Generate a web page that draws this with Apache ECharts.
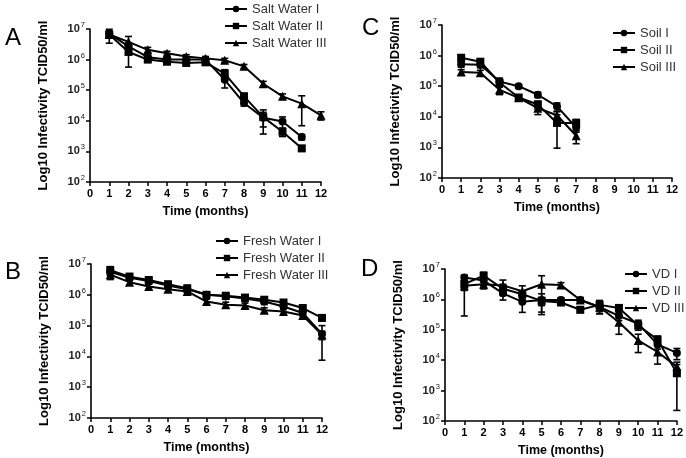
<!DOCTYPE html>
<html>
<head>
<meta charset="utf-8">
<script src="https://cdn.jsdelivr.net/npm/echarts@6/dist/echarts.min.js"></script>
<style>
html,body{margin:0;padding:0;background:#fff;}
#chart{width:686px;height:458px;}
</style>
</head>
<body>
<div id="chart"></div>
<script>
// ---- Data (log10 TCID50/ml) ----
const months = [1,2,3,4,5,6,7,8,9,10,11,12];
const soilMonths = [1,2,3,4,5,6,7];
const yTicks = [2,3,4,5,6,7];

// Panel A: Salt water
const saltI   = [6.85,6.43,6.08,6.00,6.00,6.00,5.34,4.58,4.10,3.98,3.47,null];
const saltII  = [6.82,6.25,6.00,5.93,5.89,5.91,5.54,4.80,4.12,3.64,3.10,null];
const saltIII = [6.82,6.58,6.32,6.21,6.10,6.04,5.98,5.78,5.21,4.80,4.56,4.18];
// error (SD as fraction of mean)
const saltIErr   = [0.2,0.3,0.15,0.15,0.15,0.15,0.46,0.2,0.5,0.4,0.2,null];
const saltIIErr  = [0.48,0.68,0.15,0.15,0.15,0.15,0.35,0.25,0.72,0.3,0.2,null];
const saltIIIErr = [0.2,0.5,0.2,0.15,0.15,0.15,0.15,0.15,0.2,0.2,0.81,0.3];

// Panel B: Fresh water
const freshI   = [6.75,6.55,6.45,6.30,6.18,6.00,5.95,5.88,5.78,5.62,5.41,4.73];
const freshII  = [6.80,6.59,6.48,6.34,6.21,6.00,5.97,5.91,5.84,5.75,5.57,5.25];
const freshIII = [6.65,6.41,6.27,6.18,6.11,5.78,5.68,5.65,5.50,5.46,5.33,4.70];
const freshIErr   = [0.25,0.2,0.2,0.2,0.2,0.2,0.2,0.2,0.2,0.2,0.2,0.86];
const freshIIErr  = [0.3,0.25,0.2,0.25,0.25,0.25,0.2,0.2,0.2,0.2,0.2,0.2];
const freshIIIErr = [0.3,0.2,0.2,0.2,0.2,0.2,0.2,0.2,0.2,0.2,0.2,0.3];

// Panel C: Soil
const soilI   = [5.72,5.70,5.15,5.00,4.72,4.34,3.65];
const soilII  = [5.93,5.80,5.12,4.63,4.40,3.80,3.80];
const soilIII = [5.46,5.44,4.88,4.62,4.28,4.05,3.38];
const soilIErr   = [0.2,0.2,0.3,0.15,0.2,0.3,0.3];
const soilIIErr  = [0.25,0.2,0.3,0.2,0.3,0.85,0.3];
const soilIIIErr = [0.2,0.2,0.3,0.2,0.38,0.3,0.45];

// Panel D: VD
const vdI   = [6.72,6.62,6.20,5.92,5.98,5.98,5.98,5.75,5.46,5.20,4.52,4.24];
const vdII  = [6.50,6.78,6.35,6.17,5.95,5.90,5.66,5.82,5.72,5.14,4.68,3.57];
const vdIII = [6.45,6.50,6.46,6.27,6.50,6.47,5.98,5.75,5.25,4.65,4.27,3.79];
const vdIErr   = [0.2,0.3,0.4,0.55,0.6,0.2,0.2,0.4,0.3,0.3,0.3,0.4];
const vdIIErr  = [0.91,0.3,0.4,0.3,0.3,0.2,0.2,0.4,0.2,0.3,0.3,0.94];
const vdIIIErr = [0.3,0.3,0.5,0.5,0.9,0.2,0.2,0.4,0.6,0.6,0.6,0.4];

// ---- Build chart ----
const FONT = 'Liberation Sans, Arial, sans-serif';
const grids = [
  {left:90, top:29, width:231, height:153},   // A
  {left:91, top:264, width:231, height:154},  // B
  {left:442, top:25, width:230, height:153},  // C
  {left:445, top:269, width:233, height:154}  // D
];

function xAxisCfg(i){
  return {
    gridIndex:i, type:'value', min:0, max:12, interval:1,
    axisLine:{lineStyle:{color:'#000', width:1.6}},
    axisTick:{length:4, lineStyle:{color:'#000', width:1.5}},
    axisLabel:{fontSize:11, fontWeight:'bold', color:'#000', margin:6, fontFamily:FONT},
    splitLine:{show:false},
    name:'Time (months)', nameLocation:'middle', nameGap:23,
    nameTextStyle:{fontSize:12.5, fontWeight:'bold', color:'#000', fontFamily:FONT}
  };
}
function yAxisCfg(i){
  return {
    gridIndex:i, type:'value', min:yTicks[0], max:yTicks[yTicks.length-1], interval:1,
    axisLine:{show:true, lineStyle:{color:'#000', width:1.6}},
    axisTick:{show:true, length:4, lineStyle:{color:'#000', width:1.5}},
    axisLabel:{
      margin:5, fontFamily:FONT,
      formatter: v => '{b|10}{s|' + v + '}',
      rich:{
        b:{fontSize:11, fontWeight:'bold', color:'#222', fontFamily:FONT},
        s:{fontSize:7.5, color:'#222', fontFamily:FONT, padding:[0,0,8,1]}
      }
    },
    splitLine:{show:false},
    name:'Log10 Infectivity TCID50/ml', nameLocation:'middle', nameGap:40,
    nameTextStyle:{fontSize:13, fontWeight:'bold', color:'#000', fontFamily:FONT}
  };
}

const series = [];
function addSeries(name, xs, ys, errs, symbol, g){
  const pts = [];
  const bars = [];
  xs.forEach((m, k) => {
    if (ys[k] == null) return;
    pts.push([m, ys[k]]);
    const r = errs[k];
    if (r) {
      const hi = ys[k] + Math.log10(1 + r);
      const lo = Math.max(yTicks[0], ys[k] + Math.log10(Math.max(1 - r, 1e-6)));
      bars.push([m, lo, hi]);
    }
  });
  series.push({
    type:'custom', xAxisIndex:g, yAxisIndex:g, silent:true, z:2,
    renderItem:(params, api) => {
      const x = api.value(0);
      const pLo = api.coord([x, api.value(1)]);
      const pHi = api.coord([x, api.value(2)]);
      const w = 3.5;
      const st = {stroke:'#000', lineWidth:1.6};
      return {type:'group', children:[
        {type:'line', shape:{x1:pLo[0], y1:pLo[1], x2:pHi[0], y2:pHi[1]}, style:st},
        {type:'line', shape:{x1:pLo[0]-w, y1:pLo[1], x2:pLo[0]+w, y2:pLo[1]}, style:st},
        {type:'line', shape:{x1:pHi[0]-w, y1:pHi[1], x2:pHi[0]+w, y2:pHi[1]}, style:st}
      ]};
    },
    data: bars
  });
  series.push({
    type:'line', name:name, xAxisIndex:g, yAxisIndex:g, z:3,
    data: pts, symbol: symbol,
    symbolSize: symbol === 'triangle' ? 9 : 8,
    lineStyle:{color:'#000', width:2},
    itemStyle:{color:'#000'},
    emphasis:{disabled:true}
  });
}

addSeries('Salt Water I',   months, saltI,   saltIErr,   'circle',   0);
addSeries('Salt Water II',  months, saltII,  saltIIErr,  'rect',     0);
addSeries('Salt Water III', months, saltIII, saltIIIErr, 'triangle', 0);
addSeries('Fresh Water I',   months, freshI,   freshIErr,   'circle',   1);
addSeries('Fresh Water II',  months, freshII,  freshIIErr,  'rect',     1);
addSeries('Fresh Water III', months, freshIII, freshIIIErr, 'triangle', 1);
addSeries('Soil I',   soilMonths, soilI,   soilIErr,   'circle',   2);
addSeries('Soil II',  soilMonths, soilII,  soilIIErr,  'rect',     2);
addSeries('Soil III', soilMonths, soilIII, soilIIIErr, 'triangle', 2);
addSeries('VD I',   months, vdI,   vdIErr,   'circle',   3);
addSeries('VD II',  months, vdII,  vdIIErr,  'rect',     3);
addSeries('VD III', months, vdIII, vdIIIErr, 'triangle', 3);

function legendCfg(names, left, top){
  return {
    data:names, left:left, top:top, orient:'vertical',
    itemWidth:22, itemHeight:8, itemGap:3, selectedMode:false,
    textStyle:{fontSize:13, color:'#333', fontFamily:FONT, lineHeight:14}
  };
}

const letter = (t, x, y) => ({type:'text', left:x, top:y, style:{text:t, fontSize:24, fontFamily:FONT, fill:'#000'}});

const option = {
  animation:false,
  backgroundColor:'#fff',
  grid: grids,
  xAxis: [0,1,2,3].map(xAxisCfg),
  yAxis: [0,1,2,3].map(yAxisCfg),
  legend: [
    legendCfg(['Salt Water I','Salt Water II','Salt Water III'], 219, -3),
    legendCfg(['Fresh Water I','Fresh Water II','Fresh Water III'], 210, 229),
    legendCfg(['Soil I','Soil II','Soil III'], 607, 21),
    legendCfg(['VD I','VD II','VD III'], 619, 262)
  ],
  graphic: [
    letter('A', 5, 26),
    letter('B', 5, 260),
    letter('C', 362, 16),
    letter('D', 361, 257)
  ],
  series: series
};

const chart = echarts.init(document.getElementById('chart'), null, {renderer:'canvas'});
chart.setOption(option);
</script>
</body>
</html>
